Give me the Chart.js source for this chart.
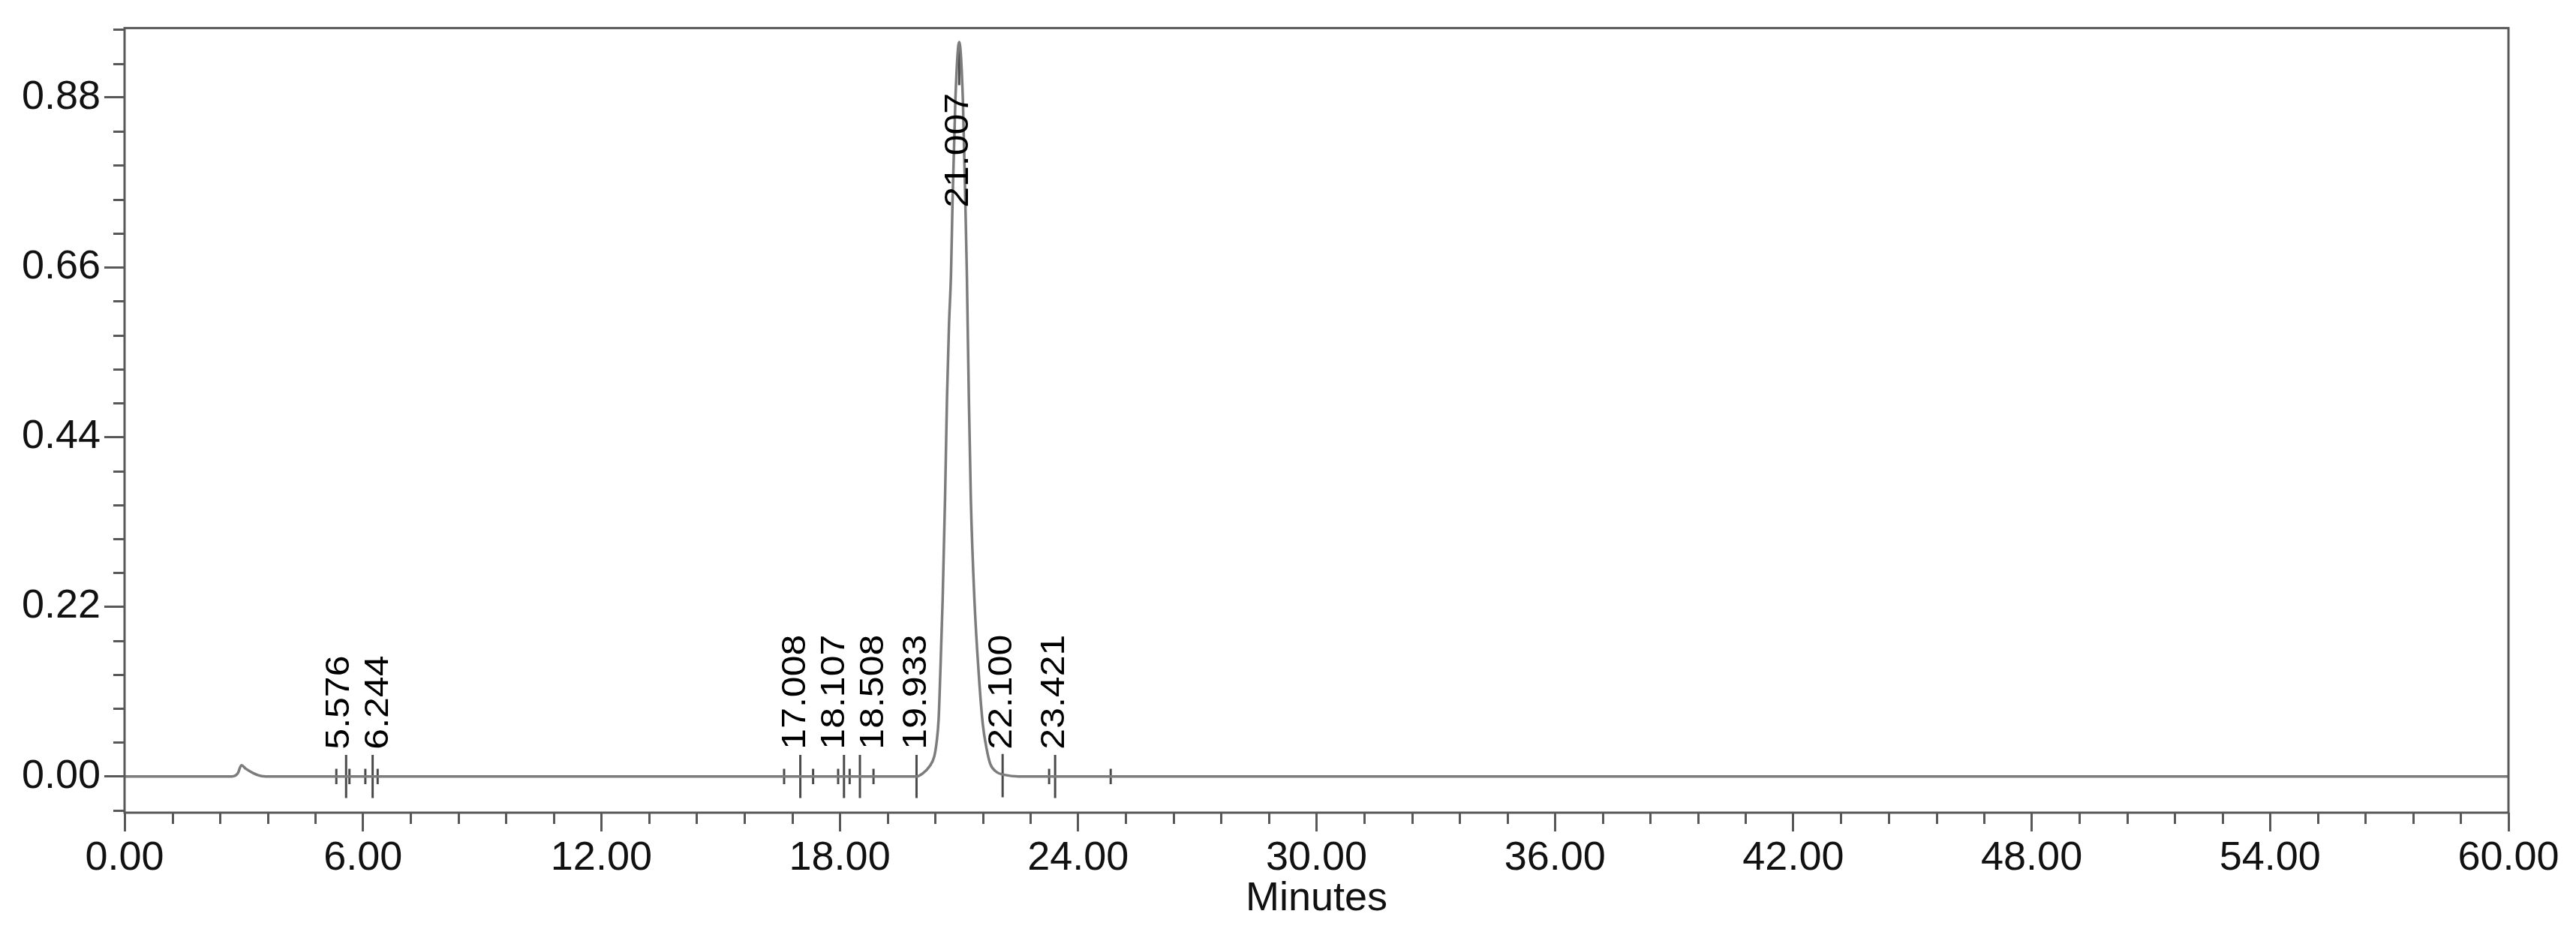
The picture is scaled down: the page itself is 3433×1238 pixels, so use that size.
<!DOCTYPE html>
<html>
<head>
<meta charset="utf-8">
<script src="https://cdn.jsdelivr.net/npm/chart.js@4.4.1/dist/chart.umd.min.js"></script>
<style>
  html, body { margin: 0; padding: 0; background: #fff; }
  #chart { display: block; }
</style>
</head>
<body>
<canvas id="chart" width="3433" height="1238"></canvas>
<script>
// detector trace (minutes, AU)
const traceTime = [0, 2.70, 2.85, 2.94, 3.05, 3.25, 3.45, 3.70,
    19.94, 20.09, 20.26, 20.38, 20.44, 20.49, 20.53, 20.59, 20.65, 20.70, 20.75, 20.80, 20.84, 20.91,
    21.007,
    21.10, 21.16, 21.20, 21.22, 21.25, 21.30, 21.39, 21.50, 21.60, 21.70, 21.79, 21.94, 22.15, 22.50, 60];
const traceValue = [0, 0, 0.004, 0.0146, 0.010, 0.004, 0.0005, 0,
    0, 0.004, 0.013, 0.026, 0.045, 0.075, 0.132, 0.229, 0.359, 0.491, 0.585, 0.650, 0.747, 0.876,
    0.952,
    0.876, 0.747, 0.650, 0.585, 0.491, 0.359, 0.229, 0.132, 0.068, 0.035, 0.016, 0.006, 0.002, 0, 0];

// integrated peaks
const peakTimes = [5.576, 6.244, 17.008, 18.107, 18.508, 19.933, 21.007, 22.100, 23.421];
const peakLabels = ['5.576', '6.244', '17.008', '18.107', '18.508', '19.933', '21.007', '22.100', '23.421'];
const peakHeights = [0.000, 0.000, 0.000, 0.000, 0.000, 0.000, 0.952, 0.001, 0.000];

// peak start / end marks
const boundaryTimes = [5.33, 5.66, 6.06, 6.37, 16.60, 17.33, 17.96, 18.25, 18.85, 23.27, 24.82];

const xMajorTicks = [0, 6, 12, 18, 24, 30, 36, 42, 48, 54, 60];
const yMajorTicks = [0, 0.22, 0.44, 0.66, 0.88];
const xMinorStep = 1.2;
const yMinorStep = 0.044;

const FONT = "'Liberation Sans', Arial, sans-serif";
const AXIS_GREY = '#585858';

const markerHalf = 0.028;
const boundaryHalf = 0.010;

const traceData = traceTime.map((t, i) => ({x: t, y: traceValue[i]}));

const markerData = [];
peakTimes.forEach((t, i) => {
    const h = peakHeights[i];
    const top = h > 0.1 ? h : h + markerHalf;
    markerData.push({x: t, y: top}, {x: t, y: top - 2 * markerHalf}, {x: t, y: null});
});

const boundaryData = [];
boundaryTimes.forEach(t => {
    boundaryData.push({x: t, y: boundaryHalf}, {x: t, y: -boundaryHalf}, {x: t, y: null});
});

// push crowded labels on the baseline row apart
function spreadLabels(pos, minSep) {
    for (let k = 0; k < 60; k++) {
        for (let i = 0; i < pos.length - 1; i++) {
            const d = pos[i + 1].x - pos[i].x;
            if (d < minSep) {
                const s = (minSep - d) / 2;
                pos[i].x -= s;
                pos[i + 1].x += s;
            }
        }
    }
}

const chromPlugin = {
    id: 'chrom',
    afterDatasetsDraw(chart) {
        const ctx = chart.ctx;
        const area = chart.chartArea;
        const xs = chart.scales.x;
        const ys = chart.scales.y;

        ctx.save();
        ctx.strokeStyle = AXIS_GREY;
        ctx.lineWidth = 3;
        ctx.strokeRect(area.left, area.top, area.right - area.left, area.bottom - area.top);

        // minor ticks
        ctx.beginPath();
        for (let i = 0; i <= 50; i++) {
            const v = Math.round(i * xMinorStep * 10) / 10;
            if (xMajorTicks.includes(v)) continue;
            const px = Math.round(xs.getPixelForValue(v)) + 0.5;
            ctx.moveTo(px, area.bottom);
            ctx.lineTo(px, area.bottom + 15);
        }
        for (let i = -1; i <= 22; i++) {
            const v = Math.round(i * yMinorStep * 1000) / 1000;
            if (yMajorTicks.some(m => Math.abs(m - v) < 1e-6)) continue;
            if (v < ys.min || v > ys.max) continue;
            const py = Math.round(ys.getPixelForValue(v)) + 0.5;
            ctx.moveTo(area.left - 15, py);
            ctx.lineTo(area.left, py);
        }
        ctx.stroke();

        // peak labels
        ctx.fillStyle = '#000';
        ctx.font = '50px ' + FONT;
        ctx.textAlign = 'left';
        ctx.textBaseline = 'middle';
        const basePx = ys.getPixelForValue(0);
        const items = peakTimes.map((t, i) => {
            const len = ctx.measureText(peakLabels[i]).width;
            const start = Math.min(basePx - 36, ys.getPixelForValue(peakHeights[i]) + 68 + len);
            return {x: xs.getPixelForValue(t), start: start, label: peakLabels[i], low: start === basePx - 36};
        });
        spreadLabels(items.filter(it => it.low), 52);
        items.forEach(it => {
            ctx.save();
            ctx.translate(it.x, it.start);
            ctx.rotate(-Math.PI / 2);
            ctx.scale(1, 0.88);
            ctx.fillText(it.label, 0, 0);
            ctx.restore();
        });
        ctx.restore();
    }
};

new Chart(document.getElementById('chart'), {
    type: 'line',
    data: {
        datasets: [
            {
                data: traceData,
                borderColor: '#7c7c7c',
                borderWidth: 3.5,
                pointRadius: 0,
                cubicInterpolationMode: 'monotone'
            },
            {
                data: markerData,
                borderColor: '#4a4a4a',
                borderWidth: 3,
                pointRadius: 0,
                spanGaps: false
            },
            {
                data: boundaryData,
                borderColor: '#4a4a4a',
                borderWidth: 3,
                pointRadius: 0,
                spanGaps: false
            }
        ]
    },
    options: {
        responsive: false,
        animation: false,
        devicePixelRatio: 1,
        layout: {
            padding: {top: 33, right: 90, bottom: 7, left: 0}
        },
        plugins: {
            legend: {display: false},
            tooltip: {enabled: false}
        },
        scales: {
            x: {
                type: 'linear',
                min: 0,
                max: 60,
                afterBuildTicks: scale => {
                    scale.ticks = xMajorTicks.map(v => ({value: v}));
                },
                afterFit: scale => {
                    scale.height = 148;
                },
                ticks: {
                    autoSkip: false,
                    maxRotation: 0,
                    padding: 4,
                    color: '#111',
                    font: {family: FONT, size: 54},
                    callback: v => Number(v).toFixed(2)
                },
                grid: {
                    drawOnChartArea: false,
                    tickLength: 25,
                    tickColor: AXIS_GREY,
                    tickWidth: 3
                },
                border: {display: false},
                title: {
                    display: true,
                    text: 'Minutes',
                    color: '#111',
                    padding: 0,
                    font: {family: FONT, size: 54}
                }
            },
            y: {
                type: 'linear',
                min: -0.047,
                max: 0.970,
                afterBuildTicks: scale => {
                    scale.ticks = yMajorTicks.map(v => ({value: v}));
                },
                afterFit: scale => {
                    scale.width = 166;
                },
                ticks: {
                    autoSkip: false,
                    padding: 5,
                    color: '#111',
                    font: {family: FONT, size: 54},
                    callback: v => Number(v).toFixed(2)
                },
                grid: {
                    drawOnChartArea: false,
                    tickLength: 27,
                    tickColor: AXIS_GREY,
                    tickWidth: 3
                },
                border: {display: false}
            }
        }
    },
    plugins: [chromPlugin]
});
</script>
</body>
</html>
